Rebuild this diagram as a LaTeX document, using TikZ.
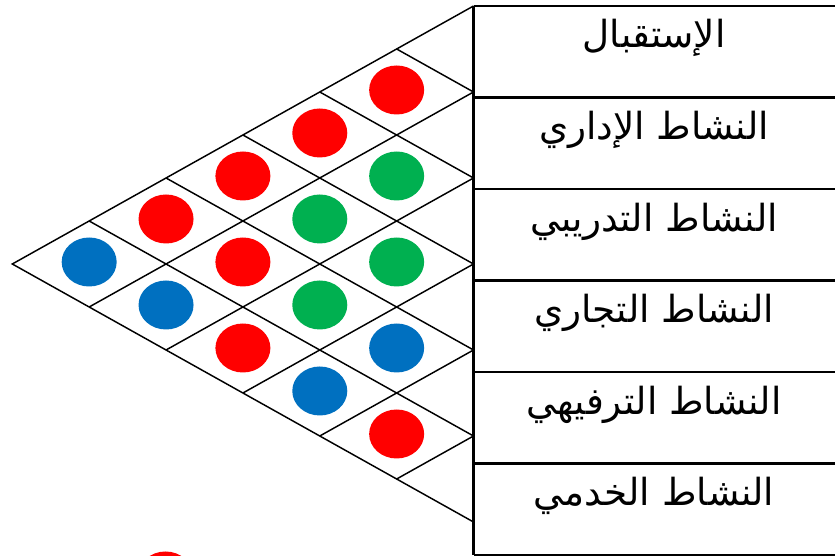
\documentclass[tikz,border=0pt]{standalone}
\usepackage{fontspec}
\newfontfamily\arabicfont[Script=Arabic]{DejaVu Sans}
\TeXXeTstate=1
\definecolor{cred}{HTML}{FF0000}
\definecolor{cgreen}{HTML}{00B050}
\definecolor{cblue}{HTML}{0070C0}

\begin{document}
\begin{tikzpicture}[x=0.75pt,y=0.75pt,line width=1.1pt,
  rowlbl/.style={anchor=base,font=\arabicfont\fontsize{28}{30}\selectfont}]
  \useasboundingbox (0,0) rectangle (835,556);
  \clip (0,0) rectangle (835,556);
  % roof grid
  \draw (473.5,550) -- (12.3,292) -- (473.5,34);
  \foreach \k in {1,...,5}{
    \draw (12.3+76.87*\k,292+43*\k) -- (473.5,34+86*\k);
    \draw (12.3+76.87*\k,292-43*\k) -- (473.5,550-86*\k);
  }
  % relations: i,j,colour
  \foreach \i/\j/\c in {0/0/cblue,1/0/cred,2/0/cred,3/0/cred,4/0/cred,
      0/1/cblue,1/1/cred,2/1/cgreen,3/1/cgreen,
      0/2/cred,1/2/cgreen,2/2/cgreen,
      0/3/cblue,1/3/cblue,0/4/cred}
    \fill[\c] (12.3+76.87*\i+76.87*\j+76.87,294+43*\i-43*\j) ellipse (27.5 and 24.5);
  \fill[cred] (165.5,-20) ellipse (27.5 and 24.5);
  % rows
  \draw[line width=1.7pt] (473.5,550) -- (473.5,0.5);
  \foreach \y in {550,458.5,367,275.5,184,92.5,1}
    \draw[line width=1.7pt] (473.5,\y) -- (835,\y);
  \node[rowlbl] (r1) at (654,508.5) {\beginR الإستقبال\endR};
  \node[rowlbl] (r2) at (654,416) {\beginR النشاط الإداري\endR};
  \node[rowlbl] (r3) at (654,324.5) {\beginR النشاط التدريبي\endR};
  \node[rowlbl] (r4) at (654,233) {\beginR النشاط التجاري\endR};
  \node[rowlbl] (r5) at (654,141.5) {\beginR النشاط الترفيهي\endR};
  \node[rowlbl] (r6) at (654,50) {\beginR النشاط الخدمي\endR};
\end{tikzpicture}
\end{document}
